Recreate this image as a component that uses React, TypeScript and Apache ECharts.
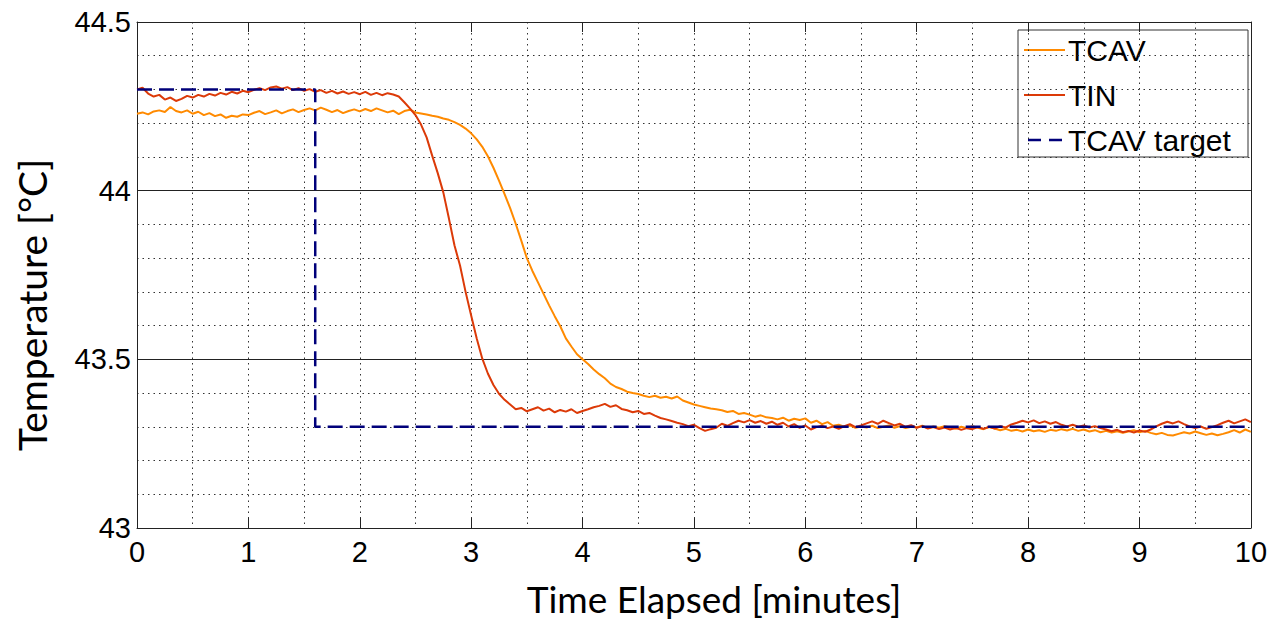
import React, { useEffect, useRef } from "react";
import * as echarts from "echarts";

// Sampling interval of the recorded traces (minutes)
const TIME_STEP = 0.05;

// TCAV temperature (°C), one row per minute, 20 samples per row
const TCAV: number[] = [
  44.228, 44.232, 44.226, 44.235, 44.238, 44.233, 44.248, 44.236, 44.232, 44.238, 44.228, 44.234, 44.224, 44.230, 44.221, 44.226, 44.216, 44.222, 44.219, 44.226,
  44.224, 44.231, 44.236, 44.227, 44.232, 44.238, 44.229, 44.236, 44.241, 44.233, 44.239, 44.244, 44.238, 44.246, 44.240, 44.233, 44.239, 44.230, 44.236, 44.241,
  44.235, 44.242, 44.236, 44.244, 44.238, 44.232, 44.237, 44.227, 44.236, 44.240, 44.232, 44.229, 44.226, 44.222, 44.219, 44.214, 44.210, 44.203, 44.195, 44.184,
  44.170, 44.152, 44.130, 44.102, 44.068, 44.030, 43.990, 43.948, 43.902, 43.852, 43.800, 43.762, 43.728, 43.694, 43.660, 43.628, 43.598, 43.562, 43.538, 43.515,
  43.500, 43.486, 43.470, 43.456, 43.444, 43.428, 43.418, 43.412, 43.404, 43.400, 43.397, 43.392, 43.388, 43.392, 43.386, 43.389, 43.384, 43.390, 43.378, 43.372,
  43.366, 43.362, 43.358, 43.354, 43.352, 43.349, 43.344, 43.347, 43.338, 43.341, 43.336, 43.330, 43.334, 43.328, 43.326, 43.322, 43.327, 43.318, 43.324, 43.320,
  43.325, 43.312, 43.318, 43.308, 43.314, 43.303, 43.306, 43.300, 43.304, 43.297, 43.301, 43.298, 43.303, 43.296, 43.300, 43.304, 43.297, 43.302, 43.296, 43.300,
  43.298, 43.303, 43.296, 43.301, 43.297, 43.302, 43.298, 43.294, 43.300, 43.296, 43.302, 43.297, 43.293, 43.299, 43.295, 43.290, 43.294, 43.288, 43.291, 43.286,
  43.292, 43.287, 43.290, 43.285, 43.291, 43.288, 43.293, 43.289, 43.294, 43.288, 43.292, 43.286, 43.290, 43.284, 43.288, 43.283, 43.287, 43.282, 43.286, 43.290,
  43.284, 43.288, 43.282, 43.278, 43.282, 43.276, 43.274, 43.279, 43.284, 43.280, 43.286, 43.281, 43.276, 43.280, 43.275, 43.279, 43.284, 43.290, 43.283, 43.292,
  43.285,
];

// TIN temperature (°C), one row per minute, 20 samples per row
const TIN: number[] = [
  44.300, 44.305, 44.288, 44.279, 44.284, 44.270, 44.276, 44.266, 44.272, 44.281, 44.276, 44.284, 44.279, 44.287, 44.282, 44.290, 44.285, 44.293, 44.288, 44.296,
  44.292, 44.299, 44.304, 44.298, 44.306, 44.309, 44.302, 44.307, 44.298, 44.304, 44.296, 44.301, 44.293, 44.298, 44.290, 44.296, 44.288, 44.294, 44.287, 44.292,
  44.286, 44.293, 44.284, 44.290, 44.283, 44.289, 44.285, 44.279, 44.262, 44.244, 44.224, 44.196, 44.158, 44.104, 44.052, 43.995, 43.918, 43.838, 43.778, 43.700,
  43.630, 43.562, 43.502, 43.458, 43.424, 43.398, 43.380, 43.366, 43.352, 43.356, 43.346, 43.352, 43.358, 43.348, 43.354, 43.343, 43.350, 43.345, 43.352, 43.341,
  43.347, 43.352, 43.358, 43.362, 43.368, 43.359, 43.364, 43.353, 43.349, 43.343, 43.347, 43.338, 43.341, 43.333, 43.326, 43.322, 43.317, 43.312, 43.308, 43.302,
  43.306, 43.296, 43.288, 43.293, 43.297, 43.309, 43.303, 43.311, 43.318, 43.313, 43.320, 43.312, 43.317, 43.309, 43.315, 43.306, 43.312, 43.301, 43.308, 43.297,
  43.304, 43.292, 43.299, 43.303, 43.296, 43.301, 43.294, 43.302, 43.308, 43.299, 43.304, 43.310, 43.316, 43.309, 43.318, 43.311, 43.304, 43.309, 43.300, 43.305,
  43.297, 43.302, 43.295, 43.299, 43.293, 43.298, 43.292, 43.297, 43.291, 43.296, 43.293, 43.299, 43.294, 43.300, 43.295, 43.302, 43.298, 43.307, 43.312, 43.318,
  43.313, 43.319, 43.311, 43.316, 43.309, 43.314, 43.306, 43.301, 43.306, 43.300, 43.304, 43.298, 43.302, 43.296, 43.292, 43.287, 43.291, 43.284, 43.288, 43.283,
  43.289, 43.285, 43.292, 43.301, 43.309, 43.315, 43.310, 43.316, 43.308, 43.301, 43.296, 43.301, 43.294, 43.299, 43.305, 43.312, 43.318, 43.310, 43.316, 43.322,
  43.314,
];

// TCAV target step profile
const TARGET_T: number[] = [0, 1.6, 1.6, 10];
const TARGET_V: number[] = [44.3, 44.3, 43.3, 43.3];

const SERIES_NAMES = ["TCAV", "TIN", "TCAV target"];
const X_TITLE = "Time Elapsed [minutes]";
const Y_TITLE = "Temperature [°C]";

const COLOR_TCAV = "#FF8A00";
const COLOR_TIN = "#DC3A08";
const COLOR_TARGET = "#00007A";

const toPairs = (vals: number[]) =>
  vals.map((v, i) => [Number((i * TIME_STEP).toFixed(2)), v]);

const dotted = { color: "#333", width: 1, type: [1.5, 4] as any };
const axisFont = { fontFamily: "Liberation Sans, Arial, sans-serif", fontSize: 29, color: "#000" };

export default function App() {
  const ref = useRef<HTMLDivElement>(null);

  useEffect(() => {
    if (!ref.current) return;
    const chart = echarts.init(ref.current, undefined, { renderer: "svg" });

    // Legend drawn as graphic elements (box, line samples, labels)
    const legendRows = [
      { name: SERIES_NAMES[0], color: COLOR_TCAV, dash: null as any, width: 2, y: 50 },
      { name: SERIES_NAMES[1], color: COLOR_TIN, dash: null as any, width: 2, y: 95 },
      { name: SERIES_NAMES[2], color: COLOR_TARGET, dash: [13, 8], width: 2.5, y: 140 },
    ];
    const legendChildren: any[] = [
      {
        type: "rect",
        shape: { x: 1018, y: 30, width: 230, height: 127 },
        style: { fill: "#fff", stroke: "#333", lineWidth: 1 },
      },
    ];
    legendRows.forEach((r) => {
      legendChildren.push({
        type: "line",
        shape: { x1: r.dash ? 1028 : 1024, y1: r.y, x2: 1065, y2: r.y },
        style: { stroke: r.color, lineWidth: r.width, lineDash: r.dash || undefined },
      });
      legendChildren.push({
        type: "text",
        x: 1068,
        y: r.y,
        style: {
          text: r.name,
          fontFamily: "Liberation Sans, Arial, sans-serif",
          fontSize: 30,
          fill: "#000",
          align: "left",
          verticalAlign: "middle",
        },
      });
    });

    const option: any = {
      animation: false,
      backgroundColor: "#fff",
      grid: { left: 137, right: 16, top: 22, bottom: 93, containLabel: false },
      xAxis: [
        {
          type: "value",
          position: "bottom",
          min: 0,
          max: 10,
          interval: 1,
          axisLine: { show: true, onZero: false, lineStyle: { color: "#222", width: 1 } },
          axisTick: { show: true, inside: true, length: 10, lineStyle: { color: "#222" } },
          axisLabel: { ...axisFont, margin: 9 },
          splitLine: { show: true, lineStyle: dotted },
          minorTick: { show: true, splitNumber: 2, length: 0, lineStyle: { color: "transparent" } },
          minorSplitLine: { show: true, lineStyle: dotted },
        },
        {
          type: "value",
          position: "top",
          min: 0,
          max: 10,
          interval: 1,
          axisLine: { show: true, onZero: false, lineStyle: { color: "#222", width: 1 } },
          axisTick: { show: true, inside: true, length: 10, lineStyle: { color: "#222" } },
          axisLabel: { show: false },
          splitLine: { show: false },
        },
      ],
      yAxis: [
        {
          type: "value",
          position: "left",
          min: 43,
          max: 44.5,
          interval: 0.5,
          axisLine: { show: true, onZero: false, lineStyle: { color: "#222", width: 1 } },
          axisTick: { show: true, inside: true, length: 10, lineStyle: { color: "#222" } },
          axisLabel: { ...axisFont, margin: 6 },
          splitLine: { show: true, lineStyle: { color: "#222", width: 1.2, type: "solid" } },
          minorTick: { show: true, splitNumber: 5, length: 0, lineStyle: { color: "transparent" } },
          minorSplitLine: { show: true, lineStyle: dotted },
        },
        {
          type: "value",
          position: "right",
          min: 43,
          max: 44.5,
          interval: 0.5,
          axisLine: { show: true, onZero: false, lineStyle: { color: "#222", width: 1 } },
          axisTick: { show: true, inside: true, length: 10, lineStyle: { color: "#222" } },
          axisLabel: { show: false },
          splitLine: { show: false },
        },
      ],
      graphic: [
        {
          type: "text",
          x: 32,
          y: 305,
          rotation: Math.PI / 2,
          style: {
            text: Y_TITLE,
            fontFamily: "Lato, 'Open Sans', sans-serif",
            fontSize: 39,
            fill: "#000",
            align: "center",
            verticalAlign: "middle",
          },
        },
        {
          type: "text",
          x: 714,
          y: 598,
          style: {
            text: X_TITLE,
            fontFamily: "Lato, 'Open Sans', sans-serif",
            fontSize: 37,
            fill: "#000",
            align: "center",
            verticalAlign: "middle",
          },
        },
        {
          type: "group",
          z: 100,
          children: legendChildren,
        },
      ],
      series: [
        {
          name: SERIES_NAMES[0],
          type: "line",
          xAxisIndex: 0,
          yAxisIndex: 0,
          data: toPairs(TCAV),
          showSymbol: false,
          symbol: "none",
          lineStyle: { color: COLOR_TCAV, width: 2 },
          itemStyle: { color: COLOR_TCAV },
          z: 3,
        },
        {
          name: SERIES_NAMES[1],
          type: "line",
          xAxisIndex: 0,
          yAxisIndex: 0,
          data: toPairs(TIN),
          showSymbol: false,
          symbol: "none",
          lineStyle: { color: COLOR_TIN, width: 2 },
          itemStyle: { color: COLOR_TIN },
          z: 4,
        },
        {
          name: SERIES_NAMES[2],
          type: "line",
          xAxisIndex: 0,
          yAxisIndex: 0,
          data: TARGET_T.map((t, i) => [t, TARGET_V[i]]),
          showSymbol: false,
          symbol: "none",
          lineStyle: { color: COLOR_TARGET, width: 2.5, type: [15, 7] },
          itemStyle: { color: COLOR_TARGET },
          z: 5,
        },
      ],
    };
    chart.setOption(option);
    return () => chart.dispose();
  }, []);

  return (
    <div
      ref={ref}
      style={{ position: "absolute", left: 0, top: 0, width: 1270, height: 621 }}
    />
  );
}
